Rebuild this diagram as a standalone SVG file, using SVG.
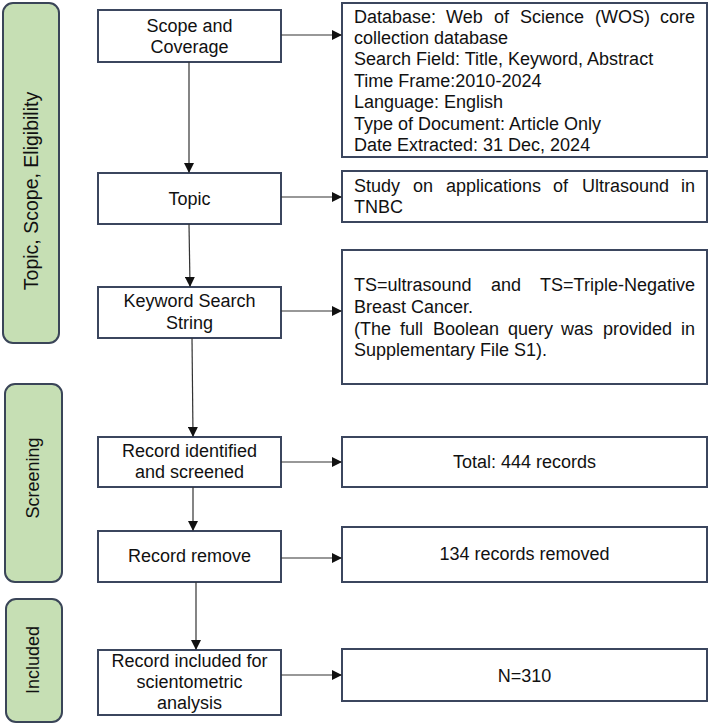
<svg xmlns="http://www.w3.org/2000/svg" width="709" height="724" viewBox="0 0 709 724">
<defs>
<style>
.phase{fill:#c6dfb4;stroke:#3a4558;stroke-width:2}
.box{fill:#ffffff;stroke:#3b465e;stroke-width:2}
text{font-family:"Liberation Sans",Arial,sans-serif;font-size:18px;fill:#111}
.c{text-anchor:middle}
.e{text-anchor:end}
.conn{stroke:#333;stroke-width:1.2;fill:none}
</style>
<marker id="ah" markerWidth="10" markerHeight="10" refX="9" refY="5" orient="auto" markerUnits="userSpaceOnUse">
<path d="M0,0 L10,5 L0,10 z" fill="#111"/>
</marker>
</defs>
<rect width="709" height="724" fill="#ffffff"/>

<g id="phase-topic">
<rect class="phase" x="3" y="3" width="56" height="340" rx="10"/>
<text class="c" transform="translate(38,191) rotate(-90)" style="font-size:19.5px">Topic, Scope, Eligibility</text>
</g>
<g id="phase-screening">
<rect class="phase" x="5" y="384" width="57" height="198" rx="10"/>
<text class="c" transform="translate(38.5,478) rotate(-90)">Screening</text>
</g>
<g id="phase-included">
<rect class="phase" x="6" y="599" width="56" height="123" rx="10"/>
<text class="c" transform="translate(39,660) rotate(-90)">Included</text>
</g>

<g id="n-scope">
<rect class="box" x="98" y="10" width="183" height="52"/>
<text class="c" x="189.5" y="32">Scope and</text>
<text class="c" x="189.5" y="52.5">Coverage</text>
</g>
<g id="n-topic">
<rect class="box" x="98" y="173" width="183" height="51"/>
<text class="c" x="189.5" y="205">Topic</text>
</g>
<g id="n-keyword">
<rect class="box" x="98" y="287" width="183" height="51"/>
<text class="c" x="189.5" y="307">Keyword Search</text>
<text class="c" x="189.5" y="329">String</text>
</g>
<g id="n-identified">
<rect class="box" x="98" y="437" width="183" height="50"/>
<text class="c" x="189.5" y="457">Record identified</text>
<text class="c" x="189.5" y="478">and screened</text>
</g>
<g id="n-remove">
<rect class="box" x="98" y="531" width="183" height="51"/>
<text class="c" x="189.5" y="562">Record remove</text>
</g>
<g id="n-included">
<rect class="box" x="98" y="650" width="183" height="65"/>
<text class="c" x="189.5" y="667">Record included for</text>
<text class="c" x="189.5" y="688">scientometric</text>
<text class="c" x="189.5" y="709">analysis</text>
</g>

<g id="n-database">
<rect class="box" x="342" y="3" width="365" height="154"/>
<text y="22.5"><tspan x="354">Database:</tspan><tspan x="446">Web</tspan><tspan x="494">of</tspan><tspan x="520">Science</tspan><tspan x="595">(WOS)</tspan></text>
<text class="e" x="695" y="22.5">core</text>
<text x="354" y="43.5">collection database</text>
<text x="354" y="65">Search Field: Title, Keyword, Abstract</text>
<text x="354" y="86.5">Time Frame:2010-2024</text>
<text x="354" y="108">Language: English</text>
<text x="354" y="129.5">Type of Document: Article Only</text>
<text x="354" y="151">Date Extracted: 31 Dec, 2024</text>
</g>
<g id="n-study">
<rect class="box" x="342" y="171" width="365" height="51"/>
<text y="192"><tspan x="354">Study</tspan><tspan x="413">on</tspan><tspan x="446">applications</tspan><tspan x="553">of</tspan><tspan x="582">Ultrasound</tspan></text>
<text class="e" x="695" y="192">in</text>
<text x="354" y="213">TNBC</text>
</g>
<g id="n-query">
<rect class="box" x="342" y="250" width="365" height="134"/>
<text y="291"><tspan x="354">TS=ultrasound</tspan><tspan x="491">and</tspan></text>
<text class="e" x="695" y="291">TS=Triple-Negative</text>
<text x="354" y="313">Breast Cancer.</text>
<text y="334.5"><tspan x="354">(The</tspan><tspan x="400">full</tspan><tspan x="433">Boolean</tspan><tspan x="508">query</tspan><tspan x="561">was</tspan><tspan x="603">provided</tspan></text>
<text class="e" x="695" y="334.5">in</text>
<text x="354" y="356">Supplementary File S1).</text>
</g>
<g id="n-total">
<rect class="box" x="342" y="437" width="365" height="50"/>
<text class="c" x="524.5" y="468">Total: 444 records</text>
</g>
<g id="n-removed">
<rect class="box" x="342" y="527" width="365" height="55"/>
<text class="c" x="524.5" y="560">134 records removed</text>
</g>
<g id="n-n310">
<rect class="box" x="342" y="649" width="365" height="52"/>
<text class="c" x="524.5" y="682">N=310</text>
</g>

<g id="connectors">
<line class="conn" x1="189" y1="62" x2="189" y2="172" marker-end="url(#ah)"/>
<line class="conn" x1="189" y1="224" x2="190" y2="286" marker-end="url(#ah)"/>
<line class="conn" x1="192" y1="338" x2="193" y2="436" marker-end="url(#ah)"/>
<line class="conn" x1="193" y1="487" x2="193" y2="530" marker-end="url(#ah)"/>
<line class="conn" x1="196" y1="582" x2="196" y2="649" marker-end="url(#ah)"/>
<line class="conn" x1="281" y1="35" x2="341" y2="35" marker-end="url(#ah)"/>
<line class="conn" x1="281" y1="197" x2="341" y2="197" marker-end="url(#ah)"/>
<line class="conn" x1="281" y1="311" x2="341" y2="311" marker-end="url(#ah)"/>
<line class="conn" x1="281" y1="462" x2="341" y2="462" marker-end="url(#ah)"/>
<line class="conn" x1="281" y1="558" x2="341" y2="558" marker-end="url(#ah)"/>
<line class="conn" x1="281" y1="675" x2="341" y2="675" marker-end="url(#ah)"/>
</g>
</svg>
